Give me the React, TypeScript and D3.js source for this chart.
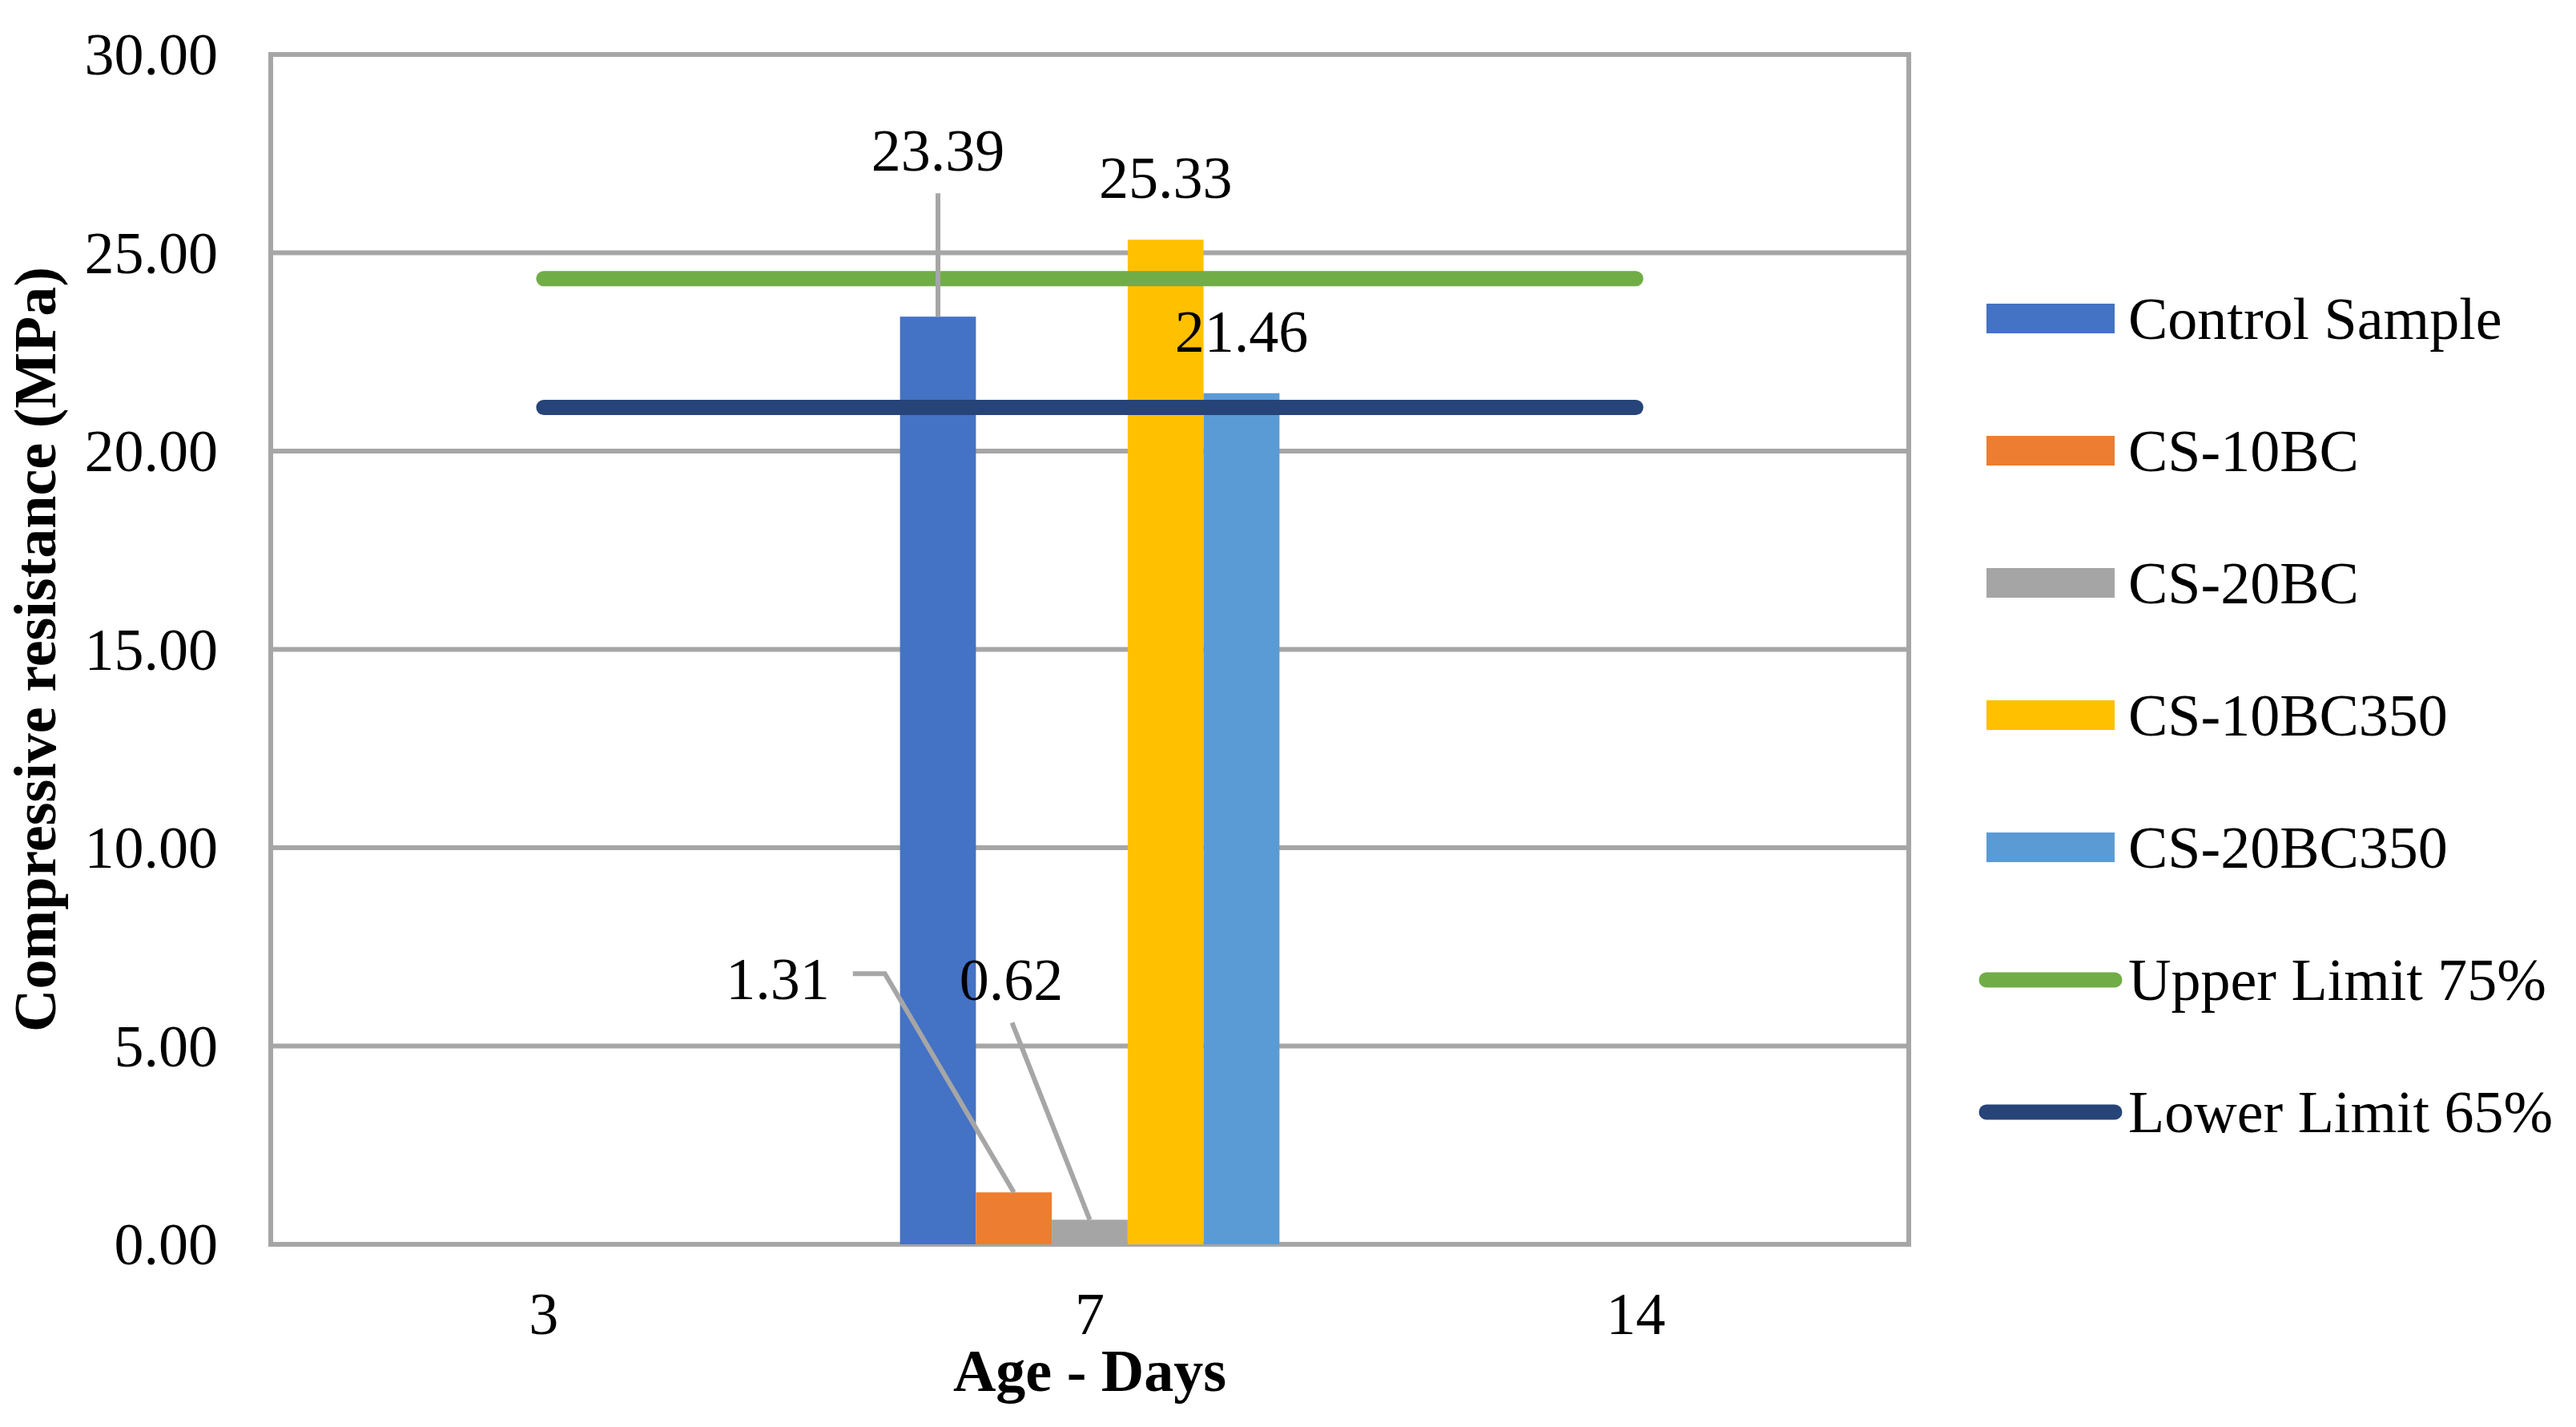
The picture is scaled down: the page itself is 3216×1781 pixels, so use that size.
// @ts-nocheck
import { useEffect, useRef } from 'react';
import * as d3 from 'd3';

const ages = ['3', '7', '14'];
const seriesNames = ['Control Sample', 'CS-10BC', 'CS-20BC', 'CS-10BC350', 'CS-20BC350'];
const controlSample = [null, 23.39, null];
const cs10bc = [null, 1.31, null];
const cs20bc = [null, 0.62, null];
const cs10bc350 = [null, 25.33, null];
const cs20bc350 = [null, 21.46, null];
const upperLimit = [24.35, 24.35, 24.35];
const lowerLimit = [21.1, 21.1, 21.1];
const yTicks = [0, 5, 10, 15, 20, 25, 30];

const barColors = ['#4472C4', '#ED7D31', '#A5A5A5', '#FFC000', '#5B9BD5'];
const upperColor = '#70AD47';
const lowerColor = '#264478';
const gridColor = '#A6A6A6';

const FONT = '"Liberation Serif", "Times New Roman", serif';

const App = () => {
  const svgRef = useRef();

  useEffect(() => {
    document.body.style.margin = '0';
    const svg = d3.select(svgRef.current);
    svg.selectAll('*').remove();

    const W = 3216;
    const H = 1781;
    const plot = { left: 338, right: 2383, top: 68, bottom: 1553 };

    svg.attr('width', W).attr('height', H);
    svg.append('rect').attr('width', W).attr('height', H).attr('fill', '#fff');

    const values = [controlSample, cs10bc, cs20bc, cs10bc350, cs20bc350];

    const x = d3.scaleBand().domain(ages).range([plot.left, plot.right]).padding(0);
    const y = d3.scaleLinear().domain([0, 30]).range([plot.bottom, plot.top]);

    // bars take ~69% of a category, the rest is gap
    const groupW = x.bandwidth() * 0.695;
    const xs = d3.scaleBand().domain(seriesNames).range([-groupW / 2, groupW / 2]);

    // gridlines
    svg
      .append('g')
      .selectAll('line')
      .data(yTicks)
      .enter()
      .append('line')
      .attr('x1', plot.left)
      .attr('x2', plot.right)
      .attr('y1', d => y(d))
      .attr('y2', d => y(d))
      .attr('stroke', gridColor)
      .attr('stroke-width', 6);

    // plot border
    svg
      .append('rect')
      .attr('x', plot.left)
      .attr('y', plot.top)
      .attr('width', plot.right - plot.left)
      .attr('height', plot.bottom - plot.top)
      .attr('fill', 'none')
      .attr('stroke', gridColor)
      .attr('stroke-width', 6);

    // y tick labels
    svg
      .append('g')
      .selectAll('text')
      .data(yTicks)
      .enter()
      .append('text')
      .attr('x', 272)
      .attr('y', d => y(d))
      .attr('dy', '0.34em')
      .attr('text-anchor', 'end')
      .style('font-family', FONT)
      .style('font-size', '74px')
      .text(d => d3.format('.2f')(d));

    // x tick labels
    svg
      .append('g')
      .selectAll('text')
      .data(ages)
      .enter()
      .append('text')
      .attr('x', d => x(d) + x.bandwidth() / 2)
      .attr('y', 1665)
      .attr('text-anchor', 'middle')
      .style('font-family', FONT)
      .style('font-size', '74px')
      .text(d => d);

    // bars
    const bars = [];
    seriesNames.forEach((s, si) => {
      ages.forEach((a, ai) => {
        const v = values[si][ai];
        if (v == null) return;
        bars.push({ s, si, a, v });
      });
    });

    svg
      .append('g')
      .selectAll('rect')
      .data(bars)
      .enter()
      .append('rect')
      .attr('x', d => x(d.a) + x.bandwidth() / 2 + xs(d.s))
      .attr('y', d => y(d.v))
      .attr('width', xs.bandwidth())
      .attr('height', d => y(0) - y(d.v))
      .attr('fill', d => barColors[d.si]);

    // limit lines
    const line = d3
      .line()
      .x((d, i) => x(ages[i]) + x.bandwidth() / 2)
      .y(d => y(d));

    [
      [upperLimit, upperColor],
      [lowerLimit, lowerColor]
    ].forEach(([data, color]) => {
      svg
        .append('path')
        .attr('d', line(data))
        .attr('fill', 'none')
        .attr('stroke', color)
        .attr('stroke-width', 19)
        .attr('stroke-linecap', 'round');
    });

    // data labels; a few were dragged away from the bar in the original
    const nudges = {
      'Control Sample': { dx: 0, dy: -182, anchor: 'middle', leader: 'vertical' },
      'CS-10BC': { dx: -230, dy: -241, anchor: 'end', leader: 'elbow' },
      'CS-20BC': { dx: -98, dy: -274, anchor: 'middle', leader: 'straight' }
    };

    const labels = svg.append('g');
    bars.forEach(d => {
      const cx = x(d.a) + x.bandwidth() / 2 + xs(d.s) + xs.bandwidth() / 2;
      const top = y(d.v);
      const n = nudges[d.s];
      let lx = cx;
      let ly = top - 52;
      let anchor = 'middle';
      if (n) {
        lx = cx + n.dx;
        ly = top + n.dy;
        anchor = n.anchor;
        let pts;
        if (n.leader === 'vertical') pts = [[cx, ly + 28], [cx, top]];
        else if (n.leader === 'elbow') pts = [[lx + 29, ly - 32], [lx + 69, ly - 32], [cx, top]];
        else pts = [[lx + 1, ly + 28], [cx, top]];
        labels
          .append('path')
          .attr('d', d3.line()(pts))
          .attr('fill', 'none')
          .attr('stroke', gridColor)
          .attr('stroke-width', 6);
      }
      labels
        .append('text')
        .attr('x', lx)
        .attr('y', ly)
        .attr('text-anchor', anchor)
        .style('font-family', FONT)
        .style('font-size', '74px')
        .text(d3.format('.2f')(d.v));
    });

    // axis titles
    svg
      .append('text')
      .attr('transform', `translate(69,${(plot.top + plot.bottom) / 2}) rotate(-90)`)
      .attr('text-anchor', 'middle')
      .style('font-family', FONT)
      .style('font-size', '74px')
      .style('font-weight', 'bold')
      .text('Compressive resistance (MPa)');

    svg
      .append('text')
      .attr('x', (plot.left + plot.right) / 2)
      .attr('y', 1736)
      .attr('text-anchor', 'middle')
      .style('font-family', FONT)
      .style('font-size', '74px')
      .style('font-weight', 'bold')
      .text('Age - Days');

    // legend
    const legendItems = [
      ...seriesNames.map((s, i) => ({ name: s, color: barColors[i], type: 'bar' })),
      { name: 'Upper Limit 75%', color: upperColor, type: 'line' },
      { name: 'Lower Limit 65%', color: lowerColor, type: 'line' }
    ];
    const legend = svg
      .append('g')
      .selectAll('g')
      .data(legendItems)
      .enter()
      .append('g')
      .attr('transform', (d, i) => `translate(2480,${398 + i * 165})`);

    legend
      .filter(d => d.type === 'bar')
      .append('rect')
      .attr('x', 0)
      .attr('y', -19)
      .attr('width', 160)
      .attr('height', 37)
      .attr('fill', d => d.color);

    legend
      .filter(d => d.type === 'line')
      .append('line')
      .attr('x1', 0)
      .attr('x2', 160)
      .attr('y1', 0)
      .attr('y2', 0)
      .attr('stroke', d => d.color)
      .attr('stroke-width', 19)
      .attr('stroke-linecap', 'round');

    legend
      .append('text')
      .attr('x', 177)
      .attr('y', 0)
      .attr('dy', '0.34em')
      .style('font-family', FONT)
      .style('font-size', '74px')
      .text(d => d.name);
  }, []);

  return <svg ref={svgRef} style={{ display: 'block' }}></svg>;
};

export default App;
